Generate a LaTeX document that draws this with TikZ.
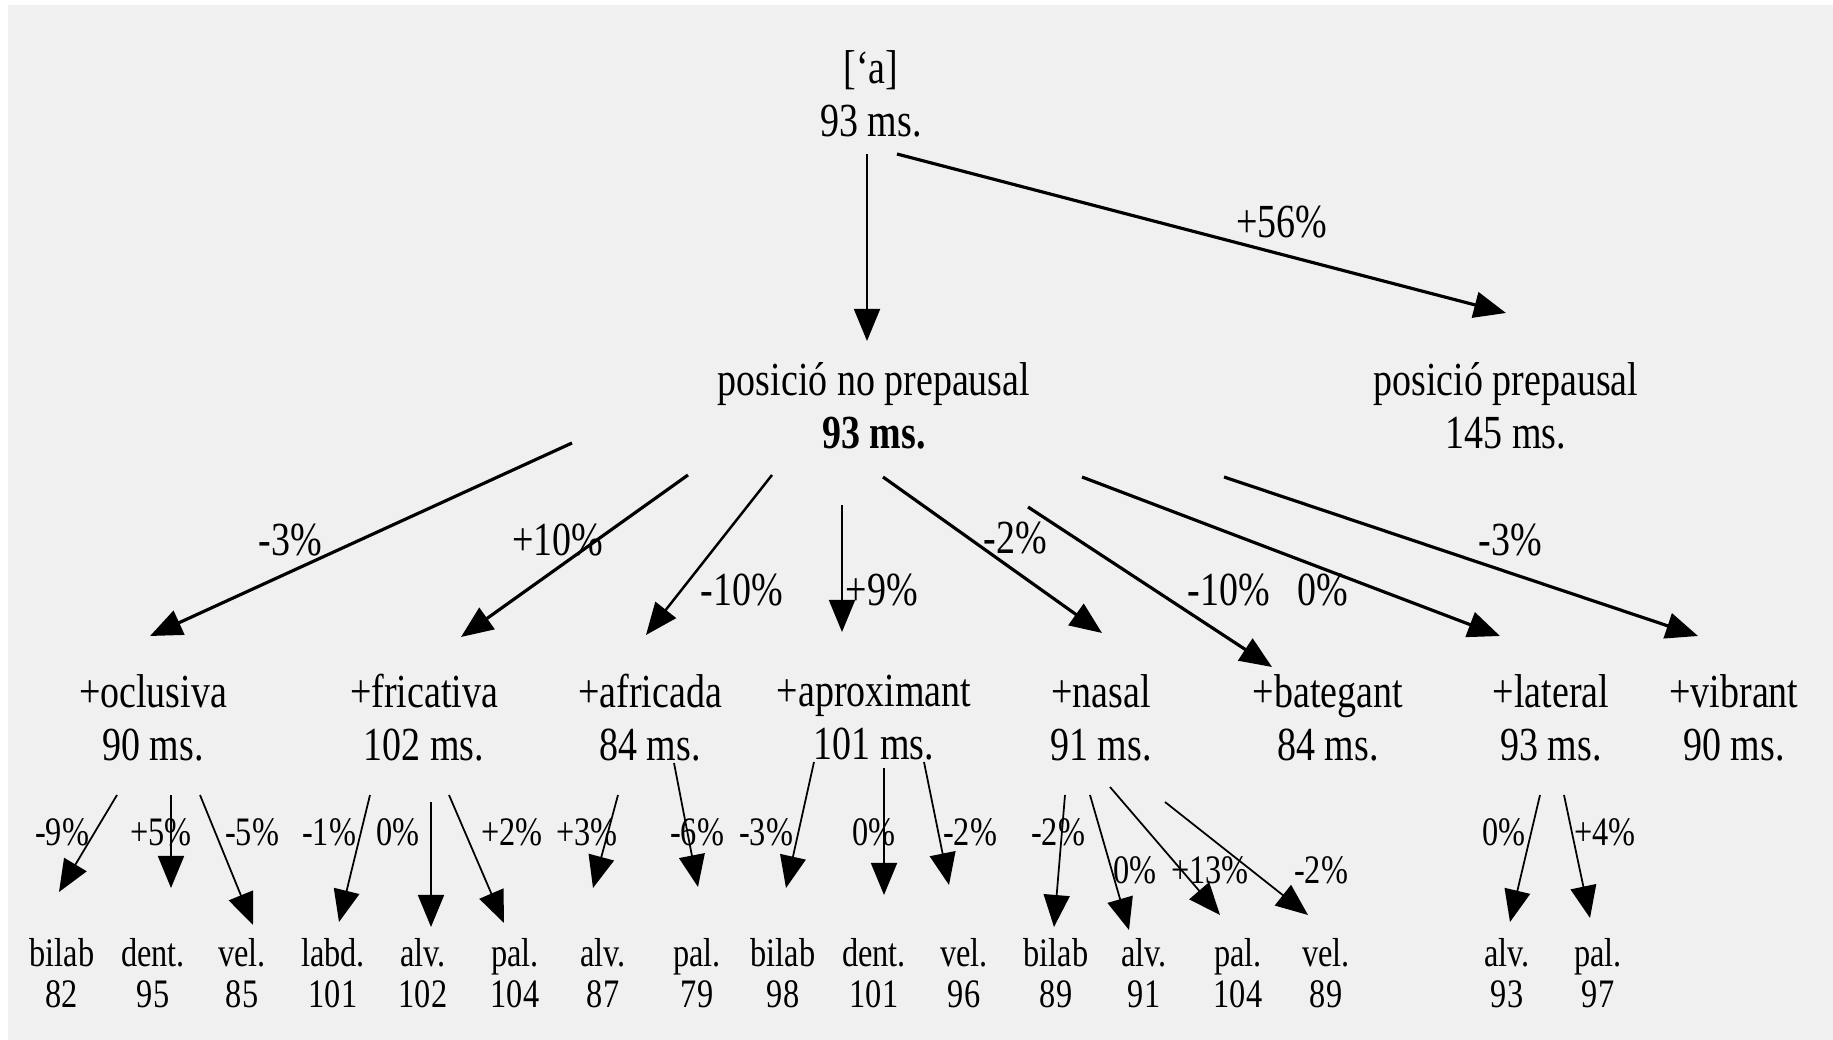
\documentclass[tikz,border=0pt]{standalone}
\usepackage{fontspec}
\setmainfont[FakeStretch=0.8]{Liberation Serif}
\usetikzlibrary{arrows.meta}

\begin{document}
\begin{tikzpicture}[x=0.01cm, y=-0.01cm,
  every node/.style={inner sep=0pt, align=center},
  big/.style={font=\fontsize{13.5}{15.1}\selectfont},
  small/.style={font=\fontsize{11.5}{11.7}\selectfont},
  arr/.style={-{Triangle[length=3.2mm,width=2.6mm]}, line width=0.5pt},
  thickarr/.style={arr, line width=0.9pt}]

  \useasboundingbox (0,0) rectangle (1833,1040);
  \fill[white] (0,0) rectangle (1833,1040);
  \fill[gray!12] (8,5) rectangle (1833,1040);

  % top of the tree
  \node[big] (root) at (871,94) {[‘a]\\93 ms.};
  \node[big] (nopre) at (874,406) {posició no prepausal\\\textbf{93 ms.}};
  \node[big] (pre) at (1506,406) {posició prepausal\\145 ms.};

  \draw[arr] ([shift={(-4,60)}]root.center) -- ([shift={(-7,-65)}]nopre.center);
  \draw[thickarr] ([shift={(26,60)}]root.center) -- ([shift={(0,-93)}]pre.center);
  \node[big] (p56) at (1282,222) {+56\%};

  % manner of articulation
  \node[big] (ocl) at (153,718) {+oclusiva\\90 ms.};
  \node[big] (fri) at (424,718) {+fricativa\\102 ms.};
  \node[big] (afr) at (650,718) {+africada\\84 ms.};
  \node[big] (apr) at (874,718) {+aproximant\\101 ms.};
  \node[big] (nas) at (1101,718) {+nasal\\91 ms.};
  \node[big] (bat) at (1328,718) {+bategant\\84 ms.};
  \node[big] (lat) at (1551,718) {+lateral\\93 ms.};
  \node[big] (vib) at (1734,718) {+vibrant\\90 ms.};

  \draw[thickarr] ([shift={(-302,37)}]nopre.center) -- ([shift={(-3,-82)}]ocl.center);
  \draw[thickarr] ([shift={(-186,69)}]nopre.center) -- ([shift={(37,-81)}]fri.center);
  \draw[arr, line width=0.7pt] ([shift={(-102,69)}]nopre.center) -- ([shift={(-4,-83)}]afr.center);
  \draw[arr] ([shift={(-32,99)}]nopre.center) -- ([shift={(-32,-86)}]apr.center);
  \draw[thickarr] ([shift={(9,71)}]nopre.center) -- ([shift={(1,-85)}]nas.center);
  \draw[thickarr] ([shift={(154,101)}]nopre.center) -- ([shift={(-56,-51)}]bat.center);
  \draw[thickarr] ([shift={(208,71)}]nopre.center) -- ([shift={(-51,-82)}]lat.center);
  \draw[thickarr] ([shift={(350,71)}]nopre.center) -- ([shift={(-36,-82)}]vib.center);

  \node[big] (pocl) at (290,540) {-3\%};
  \node[big] (pfri) at (558,540) {+10\%};
  \node[big] (pafr) at (742,590) {-10\%};
  \node[big] (papr) at (882,590) {+9\%};
  \node[big] (pnas) at (1015,538) {-2\%};
  \node[big] (pbat) at (1229,590) {-10\%};
  \node[big] (plat) at (1323,590) {0\%};
  \node[big] (pvib) at (1510,540) {-3\%};

  % place of articulation
  \node[small] (oclbil) at (62,973) {bilab\\82};
  \node[small] (ocldent) at (153,973) {dent.\\95};
  \node[small] (oclvel) at (242,973) {vel.\\85};
  \node[small] (frilab) at (333,973) {labd.\\101};
  \node[small] (frialv) at (423,973) {alv.\\102};
  \node[small] (fripal) at (515,973) {pal.\\104};
  \node[small] (afralv) at (603,973) {alv.\\87};
  \node[small] (afrpal) at (697,973) {pal.\\79};
  \node[small] (aprbil) at (783,973) {bilab\\98};
  \node[small] (aprdent) at (874,973) {dent.\\101};
  \node[small] (aprvel) at (964,973) {vel.\\96};
  \node[small] (nasbil) at (1056,973) {bilab\\89};
  \node[small] (nasalv) at (1144,973) {alv.\\91};
  \node[small] (naspal) at (1238,973) {pal.\\104};
  \node[small] (nasvel) at (1326,973) {vel.\\89};
  \node[small] (latalv) at (1507,973) {alv.\\93};
  \node[small] (latpal) at (1598,973) {pal.\\97};

  \draw[arr] ([shift={(-36,77)}]ocl.center) -- ([shift={(-3,-81)}]oclbil.center);
  \draw[arr] ([shift={(18,77)}]ocl.center) -- ([shift={(18,-85)}]ocldent.center);
  \draw[arr] ([shift={(47,77)}]ocl.center) -- ([shift={(11,-48)}]oclvel.center);
  \draw[arr] ([shift={(-54,77)}]fri.center) -- ([shift={(6,-51)}]frilab.center);
  \draw[arr] ([shift={(7,84)}]fri.center) -- ([shift={(8,-46)}]frialv.center);
  \draw[arr] ([shift={(25,77)}]fri.center) -- ([shift={(-11,-50)}]fripal.center);
  \draw[arr] ([shift={(-32,77)}]afr.center) -- ([shift={(-10,-85)}]afralv.center);
  \draw[arr] ([shift={(24,45)}]afr.center) -- ([shift={(1,-86)}]afrpal.center);
  \draw[arr] ([shift={(-60,44)}]apr.center) -- ([shift={(3,-85)}]aprbil.center);
  \draw[arr] ([shift={(10,50)}]apr.center) -- ([shift={(10,-78)}]aprdent.center);
  \draw[arr] ([shift={(50,44)}]apr.center) -- ([shift={(-15,-88)}]aprvel.center);
  \draw[arr] ([shift={(-36,77)}]nas.center) -- ([shift={(-2,-46)}]nasbil.center);
  \draw[arr] ([shift={(-11,77)}]nas.center) -- ([shift={(-15,-43)}]nasalv.center);
  \draw[arr] ([shift={(9,69)}]nas.center) -- ([shift={(-18,-58)}]naspal.center);
  \draw[arr] ([shift={(64,84)}]nas.center) -- ([shift={(-18,-58)}]nasvel.center);
  \draw[arr] ([shift={(-11,77)}]lat.center) -- ([shift={(3,-51)}]latalv.center);
  \draw[arr] ([shift={(13,77)}]lat.center) -- ([shift={(-8,-55)}]latpal.center);

  \node[small] (qoclbil) at (62,832) {-9\%};
  \node[small] (qocldent) at (161,832) {+5\%};
  \node[small] (qoclvel) at (252,832) {-5\%};
  \node[small] (qfrilab) at (329,832) {-1\%};
  \node[small] (qfrialv) at (398,832) {0\%};
  \node[small] (qfripal) at (512,832) {+2\%};
  \node[small] (qafralv) at (587,832) {+3\%};
  \node[small] (qafrpal) at (697,832) {-6\%};
  \node[small] (qaprbil) at (766,832) {-3\%};
  \node[small] (qaprdent) at (874,832) {0\%};
  \node[small] (qaprvel) at (970,832) {-2\%};
  \node[small] (qnasbil) at (1058,832) {-2\%};
  \node[small] (qnasalv) at (1135,870) {0\%};
  \node[small] (qnaspal) at (1210,870) {+13\%};
  \node[small] (qnasvel) at (1321,870) {-2\%};
  \node[small] (qlatalv) at (1504,832) {0\%};
  \node[small] (qlatpal) at (1605,832) {+4\%};
\end{tikzpicture}
\end{document}
